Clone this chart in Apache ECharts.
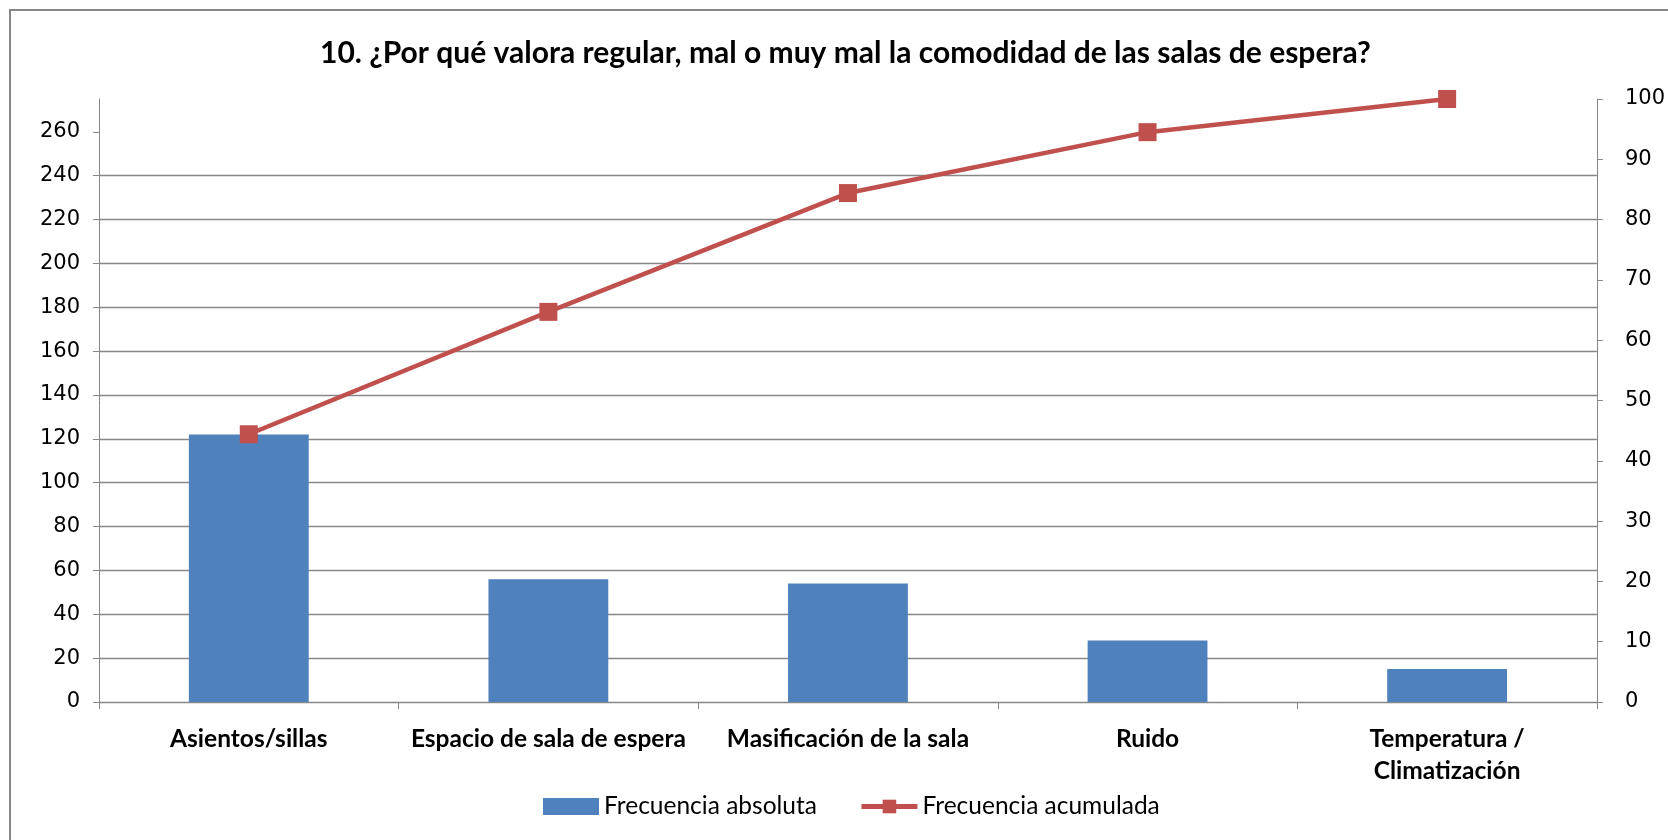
<!DOCTYPE html>
<html>
<head>
<meta charset="utf-8">
<script src="https://cdn.jsdelivr.net/npm/echarts@6/dist/echarts.min.js"></script>
<style>html,body{margin:0;padding:0;background:#fff}#c{width:1668px;height:840px}</style>
</head>
<body>
<div id="c"></div>
<script>
const titleText = '10. ¿Por qué valora regular, mal o muy mal la comodidad de las salas de espera?';
const categories = ['Asientos/sillas', 'Espacio de sala de espera', 'Masificación de la sala', 'Ruido', 'Temperatura /\nClimatización'];
const frecuenciaAbsoluta = [122, 56, 54, 28, 15];
const frecuenciaAcumulada = [44.4, 64.7, 84.4, 94.5, 100];
const leftTicks = [0, 20, 40, 60, 80, 100, 120, 140, 160, 180, 200, 220, 240, 260];
const leftMax = 275;
const rightTicks = [0, 10, 20, 30, 40, 50, 60, 70, 80, 90, 100];
const seriesNames = ['Frecuencia absoluta', 'Frecuencia acumulada'];

const grey = '#878787';
const chart = echarts.init(document.getElementById('c'));
chart.setOption({
  animation: false,
  backgroundColor: '#fff',
  graphic: [{
    type: 'rect', silent: true,
    shape: { x: 10, y: 10, width: 1720, height: 900 },
    style: { fill: 'none', stroke: grey, lineWidth: 2 }
  }],
  title: {
    text: titleText, left: 315, top: 33,
    textStyle: { fontFamily: 'Lato', fontWeight: 'bold', fontSize: 30, color: '#000' }
  },
  legend: {
    left: 538, top: 789,
    itemWidth: 56, itemHeight: 17, itemGap: 42,
    textStyle: { fontFamily: 'Lato', fontSize: 24.5, color: '#000' },
    data: [{ name: seriesNames[0], icon: 'rect' }, { name: seriesNames[1], lineStyle: { width: 5 } }]
  },
  grid: { left: 99, right: 70, top: 99, bottom: 138 },
  xAxis: {
    type: 'category', data: categories,
    axisLine: { lineStyle: { color: grey, width: 1 } },
    axisTick: { show: true, length: 7, lineStyle: { color: grey } },
    axisLabel: { margin: 21, fontFamily: 'Lato', fontWeight: 'bold', fontSize: 24.5, color: '#000', lineHeight: 32, interval: 0 }
  },
  yAxis: [{
    type: 'value', min: 0, max: leftMax, interval: 20, position: 'left',
    axisLine: { show: true, lineStyle: { color: grey } },
    axisTick: { show: true, length: 6, customValues: leftTicks, lineStyle: { color: grey } },
    axisLabel: { customValues: leftTicks, margin: 19, fontFamily: 'DejaVu Sans', fontSize: 21, color: '#000' },
    splitLine: { show: true, showMaxLine: false, lineStyle: { color: grey, width: 1.3 } }
  }, {
    type: 'value', min: 0, max: 100, interval: 10, position: 'right',
    axisLine: { show: true, lineStyle: { color: grey } },
    axisTick: { show: true, length: 6, customValues: rightTicks, lineStyle: { color: grey } },
    axisLabel: { customValues: rightTicks, margin: 28, fontFamily: 'DejaVu Sans', fontSize: 21, color: '#000' },
    splitLine: { show: false }
  }],
  series: [{
    name: seriesNames[0], type: 'bar', data: frecuenciaAbsoluta, yAxisIndex: 0,
    barWidth: '40%', itemStyle: { color: '#4F81BD' }
  }, {
    name: seriesNames[1], type: 'line', data: frecuenciaAcumulada, yAxisIndex: 1,
    symbol: 'rect', symbolSize: 18,
    lineStyle: { color: '#C0504D', width: 4.5 },
    itemStyle: { color: '#C0504D' }
  }]
});
</script>
</body>
</html>
